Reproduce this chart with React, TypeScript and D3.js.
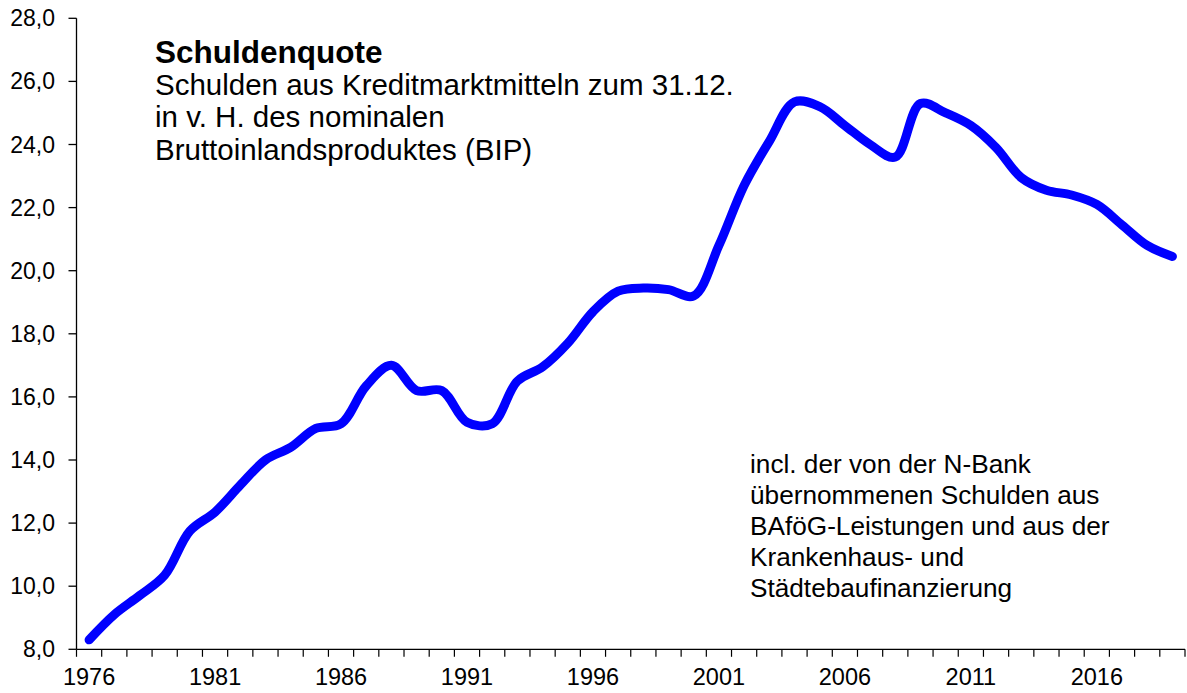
import React from 'react'
import * as d3 from 'd3'

const years = d3.range(1976, 2020).map(String)
const quote = [
  8.3, 9.1, 9.7, 10.35, 11.75, 12.35, 13.2, 14.0, 14.4, 15.0,
  15.15, 16.35, 17.0, 16.2, 16.2, 15.2, 15.15, 16.5, 16.95, 17.7,
  18.7, 19.35, 19.45, 19.4, 19.2, 20.8, 22.7, 24.1, 25.35, 25.2,
  24.6, 24.0, 23.6, 25.3, 25.0, 24.6, 23.9, 22.95, 22.55, 22.4,
  22.1, 21.45, 20.8, 20.45
]
const yTicks = d3.range(8, 28.1, 2)
const xLabels = ['1976', '1981', '1986', '1991', '1996', '2001', '2006', '2011', '2016']
const titleLines = ['Schulden aus Kreditmarktmitteln zum 31.12.', 'in v. H. des nominalen', 'Bruttoinlandsproduktes (BIP)']
const noteLines = [
  'incl. der von der N-Bank',
  'übernommenen Schulden aus',
  'BAföG-Leistungen und aus der',
  'Krankenhaus- und',
  'Städtebaufinanzierung'
]

const W = 1187
const H = 693
const left = 76.5
const right = 1185
const top = 18.3
const bottom = 649.3
const font = 'Arial, "Liberation Sans", sans-serif'

export default function App() {
  const x = d3.scaleBand<string>().domain(years).range([left, right])
  const y = d3.scaleLinear().domain([8, 28]).range([bottom, top])

  const line = d3
    .line<number>()
    .x((_, i) => (x(years[i]) ?? 0) + x.bandwidth() / 2)
    .y((d) => y(d))
    .curve(d3.curveCatmullRom.alpha(0.5))

  // tick marks sit on the category borders
  const xTickPos = years.map((yr) => x(yr) ?? 0).concat([right])

  return (
    <svg
      width={W}
      height={H}
      style={{ position: 'absolute', left: 0, top: 0, background: '#fff' }}
      fontFamily={font}
    >
      <rect width={W} height={H} fill="#fff" />

      {/* y axis */}
      <line x1={left} x2={left} y1={top} y2={bottom} stroke="#000" strokeWidth={1.3} />
      {yTicks.map((t) => (
        <g key={t}>
          <line x1={left - 8} x2={left} y1={y(t)} y2={y(t)} stroke="#000" strokeWidth={1.3} />
          <text x={55} y={y(t)} dy="0.35em" textAnchor="end" fontSize={23} fill="#000">
            {t.toFixed(1).replace('.', ',')}
          </text>
        </g>
      ))}

      {/* x axis */}
      <line x1={left} x2={right} y1={bottom} y2={bottom} stroke="#000" strokeWidth={1.3} />
      {xTickPos.map((p, i) => (
        <line key={i} x1={p} x2={p} y1={bottom} y2={bottom + 7.5} stroke="#000" strokeWidth={1.2} />
      ))}
      {xLabels.map((yr) => (
        <text
          key={yr}
          x={(x(yr) ?? 0) + x.bandwidth() / 2}
          y={685}
          textAnchor="middle"
          fontSize={23.5}
          fill="#000"
        >
          {yr}
        </text>
      ))}

      {/* series */}
      <path
        d={line(quote) ?? ''}
        fill="none"
        stroke="#0000ff"
        strokeWidth={9}
        strokeLinecap="round"
        strokeLinejoin="round"
      />

      {/* titles */}
      <text x={155} y={63} fontSize={31.5} fontWeight="bold" fill="#000">
        Schuldenquote
      </text>
      {titleLines.map((t, i) => (
        <text key={t} x={155} y={94.5 + i * 32.5} fontSize={29.5} fill="#000">
          {t}
        </text>
      ))}
      {noteLines.map((t, i) => (
        <text key={t} x={750} y={473 + i * 31} fontSize={26.2} fill="#000">
          {t}
        </text>
      ))}
    </svg>
  )
}
